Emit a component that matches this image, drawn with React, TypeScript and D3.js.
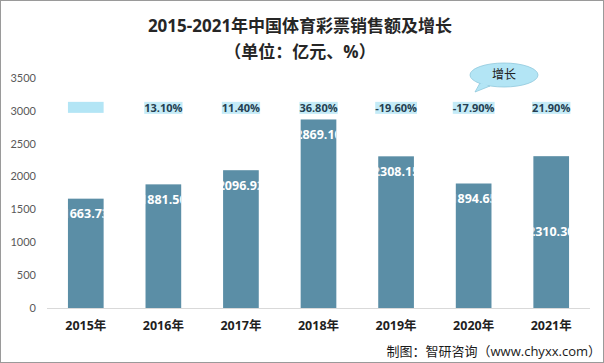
import React, { useEffect, useRef } from "react";
import * as d3 from "d3";

const years = ["2015年", "2016年", "2017年", "2018年", "2019年", "2020年", "2021年"];
const sales = [1663.73, 1881.5, 2096.92, 2869.1, 2308.15, 1894.65, 2310.3];
const growth = [null, 13.1, 11.4, 36.8, -19.6, -17.9, 21.9];
const yTicks = [0, 500, 1000, 1500, 2000, 2500, 3000, 3500];

const W = 604;
const H = 363;
const FONT = "'Open Sans', 'Noto Sans CJK SC', sans-serif";

export default function App() {
  const ref = useRef<SVGSVGElement>(null);

  useEffect(() => {
    const svg = d3.select(ref.current);
    svg.selectAll("*").remove();

    const margin = { top: 78, right: 14, bottom: 55, left: 47 };
    const x = d3
      .scaleBand()
      .domain(years)
      .range([margin.left, W - margin.right])
      .paddingInner(0.54)
      .paddingOuter(0.27);
    const y = d3
      .scaleLinear()
      .domain([0, 3500])
      .range([H - margin.bottom, margin.top]);

    svg.append("rect").attr("x", 0.5).attr("y", 0.5).attr("width", W - 1).attr("height", H - 1)
      .attr("fill", "#fff").attr("stroke", "#9a9a9a");

    // title
    svg.append("text").attr("x", 300).attr("y", 32).attr("text-anchor", "middle")
      .attr("font-family", FONT).attr("font-size", 17).attr("font-weight", "bold").attr("fill", "#262626")
      .text("2015-2021年中国体育彩票销售额及增长");
    svg.append("text").attr("x", 300).attr("y", 58).attr("text-anchor", "middle")
      .attr("font-family", FONT).attr("font-size", 17).attr("font-weight", "bold").attr("fill", "#262626")
      .text("（单位：亿元、%）");

    // y axis ticks
    svg.append("g").selectAll("text").data(yTicks).join("text")
      .attr("x", 36).attr("y", d => y(d)).attr("dy", "0.35em").attr("text-anchor", "end")
      .attr("font-family", "Lato, sans-serif").attr("font-size", 11).attr("fill", "#595959")
      .text(d => d);

    // axis line
    svg.append("line").attr("x1", margin.left).attr("x2", W - 14)
      .attr("y1", y(0) + 0.5).attr("y2", y(0) + 0.5).attr("stroke", "#d9d9d9");

    const defs = svg.append("defs");
    sales.forEach((v, i) => {
      defs.append("clipPath").attr("id", "clip" + i).append("rect")
        .attr("x", x(years[i])!).attr("y", y(v)).attr("width", x.bandwidth()).attr("height", y(0) - y(v));
    });

    // bars
    svg.append("g").selectAll("rect").data(sales).join("rect")
      .attr("x", (_, i) => x(years[i])!)
      .attr("y", d => y(d))
      .attr("width", x.bandwidth())
      .attr("height", d => y(0) - y(d))
      .attr("fill", "#5b8ea6");

    // value labels inside the bars (clipped)
    svg.append("g").selectAll("text").data(sales).join("text")
      .attr("clip-path", (_, i) => `url(#clip${i})`)
      .attr("x", (_, i) => x(years[i])! + x.bandwidth() / 2)
      .attr("y", (d, i) => (i === sales.length - 1 ? (y(d) + y(0)) / 2 : y(d) + 15))
      .attr("dy", "0.35em").attr("text-anchor", "middle")
      .attr("font-family", FONT).attr("font-size", 12.5).attr("font-weight", "bold").attr("fill", "#fff")
      .text(d => d.toFixed(2));

    // growth labels row
    const gy = y(3000) - 3;
    const gl = svg.append("g");
    growth.forEach((g, i) => {
      const cx = x(years[i])! + x.bandwidth() / 2;
      if (g === null) {
        gl.append("rect").attr("x", x(years[i])!).attr("y", gy - 6).attr("width", x.bandwidth()).attr("height", 11)
          .attr("fill", "#b3e5f5");
        return;
      }
      const t = gl.append("text").attr("x", cx).attr("y", gy).attr("dy", "0.35em").attr("text-anchor", "middle")
        .attr("font-family", FONT).attr("font-size", 11).attr("font-weight", "bold").attr("fill", "#243f52")
        .text(g.toFixed(2) + "%");
      const bb = (t.node() as SVGTextElement).getBBox();
      gl.insert("rect", "text").attr("x", bb.x).attr("y", gy - 6).attr("width", bb.width).attr("height", 12)
        .attr("fill", "#c4ebf7");
    });

    // callout bubble
    const bx = 504, by = 75;
    const bubble = svg.append("g");
    bubble.append("path")
      .attr("d", `M ${bx - 24} ${by + 8} L ${bx - 29} ${by + 17} L ${bx - 14} ${by + 11} Z`)
      .attr("fill", "#b3e5f5").attr("stroke", "#8fc8dc").attr("stroke-width", 0.8);
    bubble.append("ellipse").attr("cx", bx).attr("cy", by).attr("rx", 34).attr("ry", 12)
      .attr("fill", "#b3e5f5").attr("stroke", "#8fc8dc").attr("stroke-width", 0.8);
    bubble.append("path")
      .attr("d", `M ${bx - 23} ${by + 8} L ${bx - 28} ${by + 16} L ${bx - 15} ${by + 10} Z`)
      .attr("fill", "#b3e5f5");
    bubble.append("text").attr("x", bx).attr("y", by).attr("dy", "0.35em").attr("text-anchor", "middle")
      .attr("font-family", FONT).attr("font-size", 12).attr("fill", "#222").text("增长");

    // x labels
    svg.append("g").selectAll("text").data(years).join("text")
      .attr("x", d => x(d)! + x.bandwidth() / 2).attr("y", 326).attr("dy", "0.35em").attr("text-anchor", "middle")
      .attr("font-family", FONT).attr("font-size", 12.5).attr("font-weight", "bold").attr("fill", "#1f1f1f")
      .text(d => d);

    // source
    svg.append("text").attr("x", 601).attr("y", 351).attr("dy", "0.35em").attr("text-anchor", "end")
      .attr("font-family", FONT).attr("font-size", 13).attr("fill", "#1a1a1a")
      .text("制图：智研咨询（www.chyxx.com）");
  }, []);

  return (
    <svg ref={ref} width={W} height={H} style={{ position: "absolute", left: 0, top: 0 }} />
  );
}
